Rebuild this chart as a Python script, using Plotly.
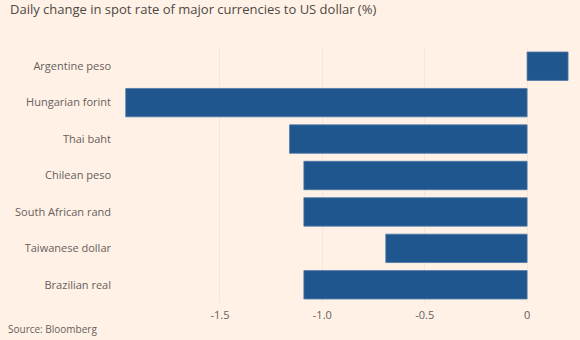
import plotly.graph_objects as go

categories = ["Argentine peso", "Hungarian forint", "Thai baht", "Chilean peso",
              "South African rand", "Taiwanese dollar", "Brazilian real"]
values = [0.20, -1.96, -1.16, -1.09, -1.09, -0.69, -1.09]
tick_vals = [-1.5, -1.0, -0.5, 0]
tick_text = ["-1.5", "-1.0", "-0.5", "0"]

BG = "#FFF1E5"
TXT = "#66605C"

fig = go.Figure(go.Bar(
    x=values, y=categories, orientation="h",
    marker=dict(color="#1F568E", line=dict(color="#4C78A8", width=0.8)),
    width=0.78,
))

fig.update_layout(
    width=580, height=340,
    paper_bgcolor=BG, plot_bgcolor=BG,
    margin=dict(l=120, r=5, t=48, b=37),
    font=dict(family="Open Sans", size=11, color=TXT),
    showlegend=False,
    annotations=[
        dict(text="Daily change in spot rate of major currencies to US dollar (%)",
             xref="paper", yref="paper", x=-112/455, xanchor="left",
             y=1 + 50/255, yanchor="top", showarrow=False,
             font=dict(size=13, color="#4d4845", family="Open Sans")),
        dict(text="Source: Bloomberg", xref="paper", yref="paper",
             x=-114/455, xanchor="left", y=-35/255, yanchor="bottom",
             showarrow=False, font=dict(size=10, color=TXT)),
    ],
)
fig.update_xaxes(range=[-1.988, 0.234], tickvals=tick_vals, ticktext=tick_text,
                 showgrid=True, gridcolor="#F5E6DA", gridwidth=1,
                 zeroline=False, showline=False, ticks="", ticklabelstandoff=4,
                 tickfont=dict(size=11, color=TXT))
fig.update_yaxes(categoryorder="array", categoryarray=categories[::-1],
                 showgrid=False, zeroline=False, showline=False, ticks="",
                 ticklabelstandoff=8, tickfont=dict(size=11, color=TXT))

fig.write_html("out.html")
